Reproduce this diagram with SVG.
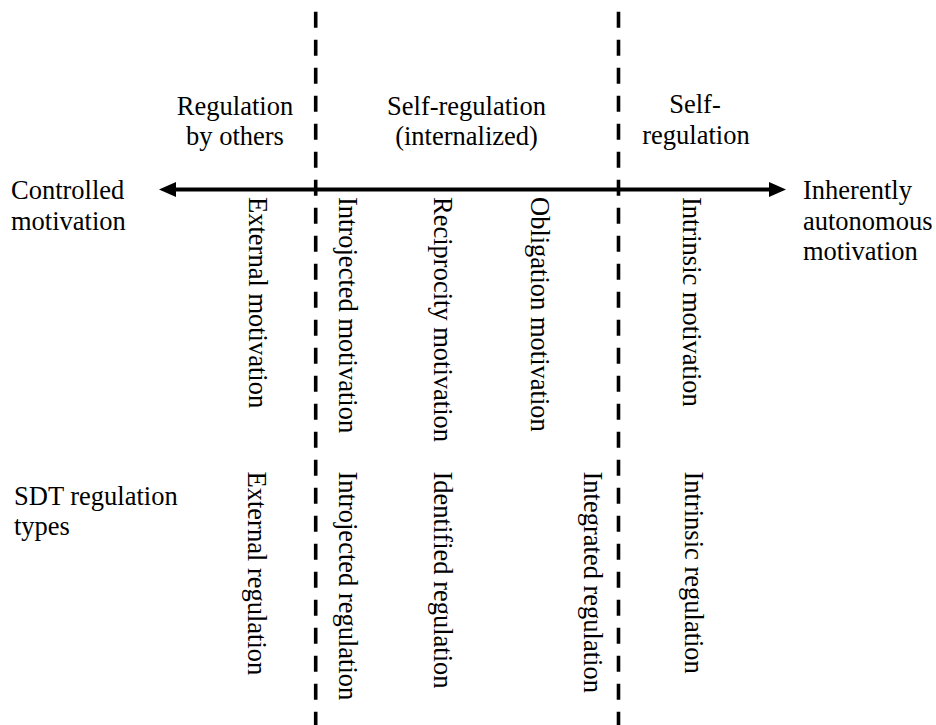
<svg xmlns="http://www.w3.org/2000/svg" width="936" height="725" viewBox="0 0 936 725">
<defs>
<style>
text{font-family:Liberation Serif,Tinos,Times New Roman,Times,DejaVu Serif,serif;font-size:26.5px;fill:#000}
.m{text-anchor:middle}
.dash{stroke:#000;stroke-width:3.6;stroke-dasharray:16 12;fill:none}
.axis{stroke:#000;stroke-width:4;fill:none}
</style>
</defs>
<rect width="936" height="725" fill="#fff"/>
<g id="connectors">
<line class="dash" x1="315.7" y1="11.7" x2="315.7" y2="725"/>
<line class="dash" x1="618.5" y1="11.7" x2="618.5" y2="725"/>
<line class="axis" x1="172" y1="189.5" x2="773" y2="189.5"/>
<polygon points="159,189.5 176,182 176,197"/>
<polygon points="786,189.5 769,182 769,197"/>
</g>
<g id="header-others"><text class="m" x="235" y="114.5">Regulation</text><text class="m" x="235" y="144.5">by others</text></g>
<g id="header-internalized"><text class="m" x="466.5" y="114.5">Self-regulation</text><text class="m" x="466.5" y="144.5">(internalized)</text></g>
<g id="header-self"><text class="m" x="695" y="113">Self-</text><text class="m" x="696" y="143.5">regulation</text></g>
<g id="controlled"><text x="11" y="199">Controlled</text><text x="11" y="229.5">motivation</text></g>
<g id="autonomous"><text x="803" y="199">Inherently</text><text x="803" y="229.5">autonomous</text><text x="803" y="260">motivation</text></g>
<g id="sdt"><text x="14" y="505">SDT regulation</text><text x="14" y="535">types</text></g>
<g id="motivations">
<text transform="translate(248.8,197) rotate(90)">External motivation</text>
<text transform="translate(338.8,197) rotate(90)">Introjected motivation</text>
<text transform="translate(433.5,197) rotate(90)">Reciprocity motivation</text>
<text transform="translate(531,197) rotate(90)">Obligation motivation</text>
<text transform="translate(682.5,197) rotate(90)">Intrinsic motivation</text>
</g>
<g id="regulations">
<text transform="translate(247.5,471.5) rotate(90)">External regulation</text>
<text transform="translate(338.8,471.5) rotate(90)">Introjected regulation</text>
<text transform="translate(434,471.5) rotate(90)">Identified regulation</text>
<text transform="translate(584,471.5) rotate(90)">Integrated regulation</text>
<text transform="translate(685,471.5) rotate(90)">Intrinsic regulation</text>
</g>
</svg>
